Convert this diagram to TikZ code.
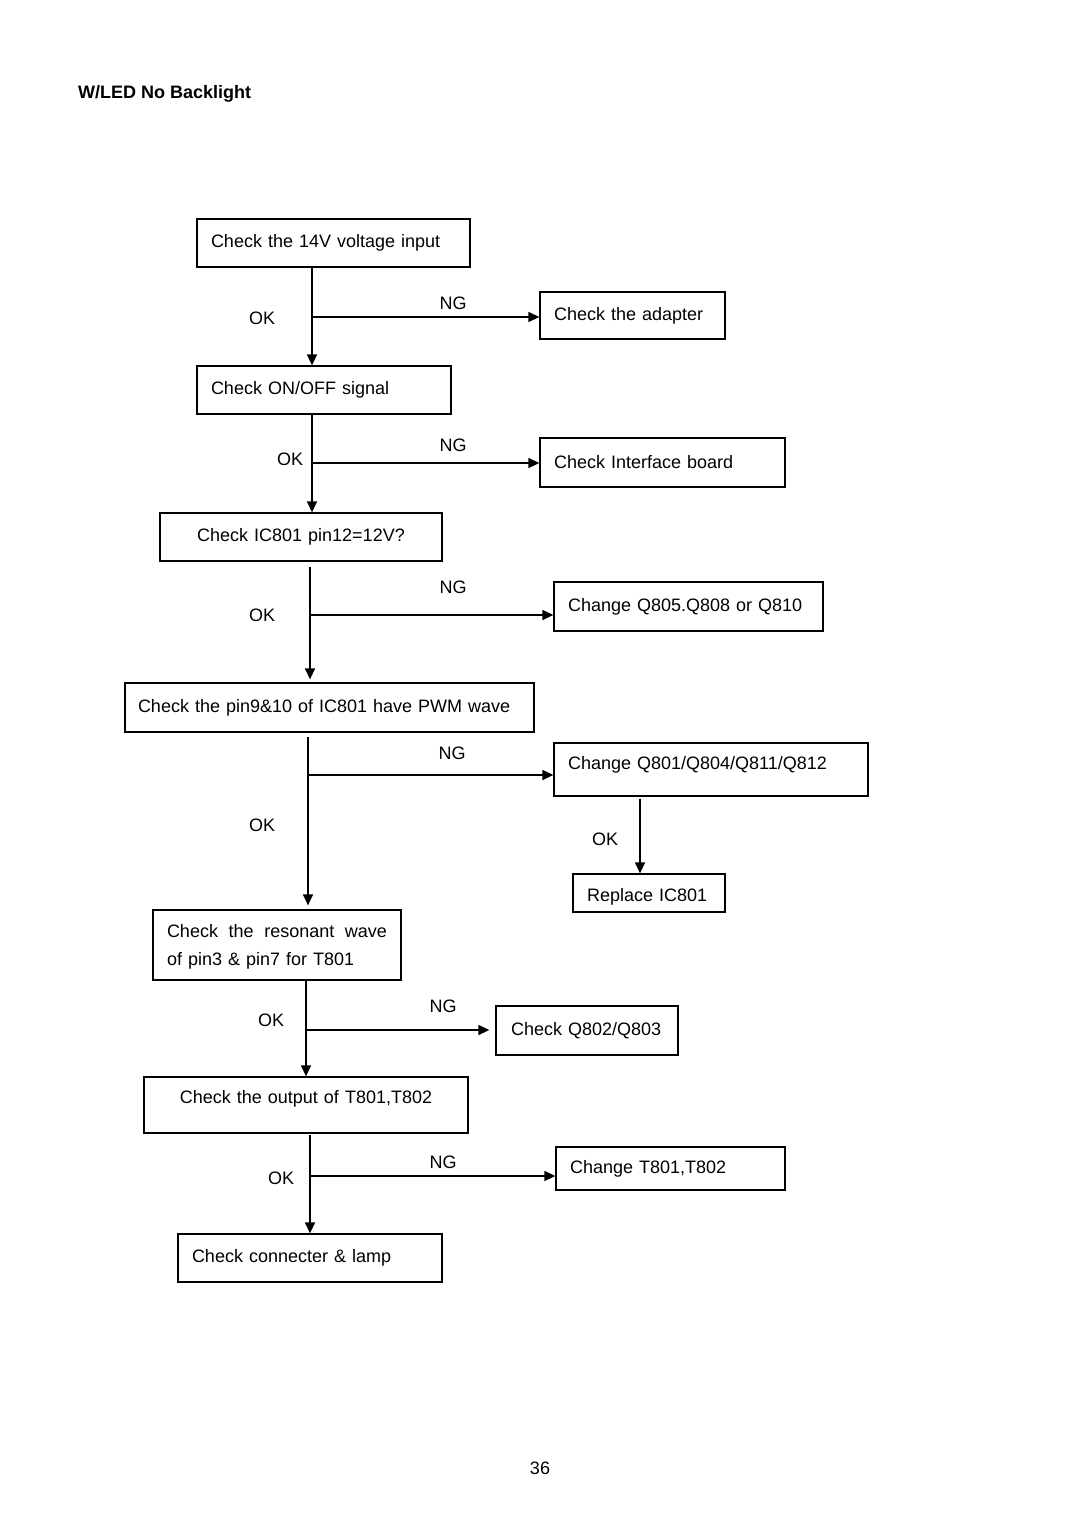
\documentclass[tikz,border=0pt]{standalone}
\usepackage{fontspec}
\setmainfont{Liberation Sans}
\usetikzlibrary{arrows.meta}
\newcommand\upby[2]{\raisebox{0pt}[\height][\dimexpr\depth+#1\relax]{#2}}
\newcommand\downby[2]{\raisebox{0pt}[\dimexpr\height+#1\relax][\depth]{#2}}
\begin{document}
\begin{tikzpicture}[x=1pt,y=-1pt,
  every node/.style={font=\fontsize{18pt}{28pt}\selectfont},
  box/.style={draw,line width=1.3pt,inner xsep=14pt,inner ysep=0pt,align=left},
  cbox/.style={draw,line width=1.3pt,inner xsep=4pt,inner ysep=0pt,align=center},
  arr/.style={line width=1.3pt,-{Triangle[length=11pt,width=10pt]}},
  lbl/.style={inner sep=0pt}]
\useasboundingbox (0,0) rectangle (1080,1528);
\fill[white] (0,0) rectangle (1080,1528);

\node[anchor=base west,inner sep=0pt,font=\fontsize{18pt}{22pt}\selectfont\bfseries] (title) at (78,98) {W/LED No Backlight};

% boxes
\node[box,text width=245pt,minimum height=48pt] (b1) at (333.5,243) {Check the 14V voltage input};
\node[box,text width=157pt,minimum height=47pt] (ad) at (632.5,315.5) {Check the adapter};
\node[box,text width=226pt,minimum height=48pt] (b2) at (324,390) {Check ON/OFF signal};
\node[box,text width=217pt,minimum height=49pt] (ib) at (662.5,462.5) {Check Interface board};
\node[cbox,text width=274pt,minimum height=48pt] (b3) at (301,537) {Check IC801 pin12=12V?};
\node[box,text width=241pt,minimum height=49pt] (q805) at (688.5,606.5) {Change Q805.Q808 or Q810};
\node[box,inner xsep=13pt,text width=383pt,minimum height=49pt] (b4) at (329.5,707.5) {Check the pin9\&10 of IC801 have PWM wave};
\node[box,text width=286pt,minimum height=53pt] (q801) at (711,769.5) {\upby{9pt}{Change Q801/Q804/Q811/Q812}};
\node[box,text width=124pt,minimum height=38pt] (rep) at (649,893) {\downby{7pt}{Replace IC801}};
\node[box,text width=220pt,minimum height=70pt] (b5) at (277,945) {\downby{4pt}{\hbox to 220pt{Check\hfill the\hfill resonant\hfill wave}}\\of pin3 \& pin7 for T801};
\node[box,inner xsep=15pt,text width=152pt,minimum height=49pt] (q802) at (587,1030.5) {Check Q802/Q803};
\node[cbox,text width=316pt,minimum height=56pt] (b6) at (306,1105) {\upby{12pt}{Check the output of T801,T802}};
\node[box,text width=201pt,minimum height=43pt] (t801) at (670.5,1168.5) {Change T801,T802};
\node[box,text width=236pt,minimum height=48pt] (b7) at (310,1258) {Check connecter \& lamp};

% junctions
\coordinate (j1) at (312,317);
\coordinate (j2) at (312,463);
\coordinate (j3) at (310,615);
\coordinate (j4) at (308,775);
\coordinate (j5) at (306,1030);
\coordinate (j6) at (310,1176);
\coordinate (j7) at (640,830);

% connectors
\draw[arr] (b1.south -| j1) -- (b2.north -| j1);
\draw[arr] (j1) -- (ad.west |- j1);
\draw[arr] (b2.south -| j2) -- (b3.north -| j2);
\draw[arr] (j2) -- (ib.west |- j2);
\draw[arr,shorten <=5pt,shorten >=3pt] (b3.south -| j3) -- (b4.north -| j3);
\draw[arr] (j3) -- (q805.west |- j3);
\draw[arr,shorten <=4pt,shorten >=4pt] (b4.south -| j4) -- (b5.north -| j4);
\draw[arr] (j4) -- (q801.west |- j4);
\draw[arr,shorten <=2pt] (q801.south -| j7) -- (rep.north -| j7);
\draw[arr] (b5.south -| j5) -- (b6.north -| j5);
\draw[arr,shorten >=6pt] (j5) -- (q802.west |- j5);
\draw[arr,shorten <=1pt] (b6.south -| j6) -- (b7.north -| j6);
\draw[arr] (j6) -- (t801.west |- j6);

% labels
\node[lbl] (ng1) at (453,303) {NG};
\node[lbl] (ok1) at (262,318) {OK};
\node[lbl] (ng2) at (453,445) {NG};
\node[lbl] (ok2) at (290,459) {OK};
\node[lbl] (ng3) at (453,587) {NG};
\node[lbl] (ok3) at (262,615) {OK};
\node[lbl] (ng4) at (452,753) {NG};
\node[lbl] (ok4) at (262,825) {OK};
\node[lbl] (ok7) at (605,839) {OK};
\node[lbl] (ng5) at (443,1006) {NG};
\node[lbl] (ok5) at (271,1020) {OK};
\node[lbl] (ng6) at (443,1162) {NG};
\node[lbl] (ok6) at (281,1178) {OK};

\node[lbl] (page) at (540,1468) {36};
\end{tikzpicture}
\end{document}
